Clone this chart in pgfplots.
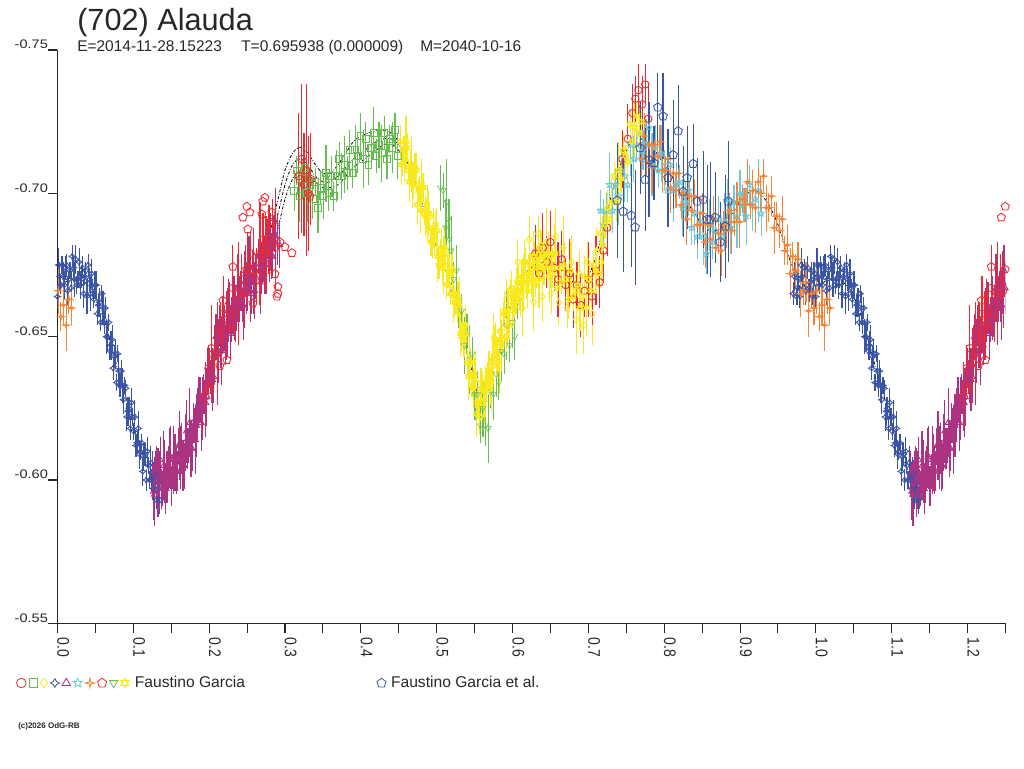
\documentclass[border=0pt]{standalone}
\usepackage{pgfplots}
\pgfplotsset{compat=1.18}
\usepackage{pgfplotstable}
\usepackage{fontspec}
\setmainfont{Liberation Sans}
\usepackage{graphicx}
\usetikzlibrary{plotmarks}

\definecolor{cRed}{RGB}{237,41,47}
\definecolor{cGreen}{RGB}{102,190,80}
\definecolor{cYellow}{RGB}{248,232,30}
\definecolor{cNavy}{RGB}{58,84,164}
\definecolor{cMag}{RGB}{172,50,130}
\definecolor{cLBlue}{RGB}{110,200,222}
\definecolor{cOrange}{RGB}{244,132,52}
\definecolor{txt}{RGB}{40,40,40}

\newcommand\sx[1]{\scalebox{1}[1.2]{#1}}
\newcommand\sy[1]{\scalebox{1}[0.85]{#1}}

\pgfdeclareplotmark{star4}{%
  \pgfpathmoveto{\pgfqpoint{0pt}{\pgfplotmarksize}}%
  \pgfpathlineto{\pgfqpoint{0.35\pgfplotmarksize}{0.35\pgfplotmarksize}}%
  \pgfpathlineto{\pgfqpoint{\pgfplotmarksize}{0pt}}%
  \pgfpathlineto{\pgfqpoint{0.35\pgfplotmarksize}{-0.35\pgfplotmarksize}}%
  \pgfpathlineto{\pgfqpoint{0pt}{-\pgfplotmarksize}}%
  \pgfpathlineto{\pgfqpoint{-0.35\pgfplotmarksize}{-0.35\pgfplotmarksize}}%
  \pgfpathlineto{\pgfqpoint{-\pgfplotmarksize}{0pt}}%
  \pgfpathlineto{\pgfqpoint{-0.35\pgfplotmarksize}{0.35\pgfplotmarksize}}%
  \pgfpathclose\pgfusepathqstroke}
\pgfdeclareplotmark{star4thin}{%
  \pgfpathmoveto{\pgfqpoint{0pt}{\pgfplotmarksize}}%
  \pgfpathlineto{\pgfqpoint{0.18\pgfplotmarksize}{0.18\pgfplotmarksize}}%
  \pgfpathlineto{\pgfqpoint{\pgfplotmarksize}{0pt}}%
  \pgfpathlineto{\pgfqpoint{0.18\pgfplotmarksize}{-0.18\pgfplotmarksize}}%
  \pgfpathlineto{\pgfqpoint{0pt}{-\pgfplotmarksize}}%
  \pgfpathlineto{\pgfqpoint{-0.18\pgfplotmarksize}{-0.18\pgfplotmarksize}}%
  \pgfpathlineto{\pgfqpoint{-\pgfplotmarksize}{0pt}}%
  \pgfpathlineto{\pgfqpoint{-0.18\pgfplotmarksize}{0.18\pgfplotmarksize}}%
  \pgfpathclose\pgfusepathqstroke}
\pgfdeclareplotmark{star5}{%
  \pgfpathmoveto{\pgfpointpolar{90}{\pgfplotmarksize}}%
  \pgfpathlineto{\pgfpointpolar{126}{0.42\pgfplotmarksize}}%
  \pgfpathlineto{\pgfpointpolar{162}{\pgfplotmarksize}}%
  \pgfpathlineto{\pgfpointpolar{198}{0.42\pgfplotmarksize}}%
  \pgfpathlineto{\pgfpointpolar{234}{\pgfplotmarksize}}%
  \pgfpathlineto{\pgfpointpolar{270}{0.42\pgfplotmarksize}}%
  \pgfpathlineto{\pgfpointpolar{306}{\pgfplotmarksize}}%
  \pgfpathlineto{\pgfpointpolar{342}{0.42\pgfplotmarksize}}%
  \pgfpathlineto{\pgfpointpolar{18}{\pgfplotmarksize}}%
  \pgfpathlineto{\pgfpointpolar{54}{0.42\pgfplotmarksize}}%
  \pgfpathclose\pgfusepathqstroke}
\pgfdeclareplotmark{hexa}{%
  \pgfpathmoveto{\pgfpointpolar{90}{\pgfplotmarksize}}%
  \pgfpathlineto{\pgfpointpolar{210}{\pgfplotmarksize}}%
  \pgfpathlineto{\pgfpointpolar{330}{\pgfplotmarksize}}%
  \pgfpathclose
  \pgfpathmoveto{\pgfpointpolar{270}{\pgfplotmarksize}}%
  \pgfpathlineto{\pgfpointpolar{30}{\pgfplotmarksize}}%
  \pgfpathlineto{\pgfpointpolar{150}{\pgfplotmarksize}}%
  \pgfpathclose\pgfusepathqstroke}

\pgfplotsset{
  ser/.style 2 args={only marks, mark=#1, color=#2, forget plot,
    mark options={solid, line width=0.65pt},
    error bars/y dir=both, error bars/y explicit, error bars/error mark=none,
    error bars/error bar style={line width=0.85pt, color=#2, solid}},
  fitline/.style={smooth, black, line width=0.6pt, no marks, forget plot,
    dash pattern=on 2.2pt off 1.3pt on 0.6pt off 1.3pt},
  lgd/.style={legend image code/.code={\draw[##1] plot coordinates {(0pt,0pt)};}},
}

% ---------------- data (phase, reduced magnitude, error) ----------------
\pgfplotstableread{
x y e
-0.030 -0.665 0.004
-0.027 -0.672 0.003
-0.024 -0.667 0.006
-0.021 -0.664 0.004
-0.018 -0.671 0.005
-0.015 -0.674 0.003
-0.012 -0.668 0.005
-0.009 -0.666 0.004
-0.006 -0.673 0.003
-0.003 -0.670 0.006
0.000 -0.664 0.004
0.003 -0.671 0.005
0.006 -0.675 0.003
0.009 -0.668 0.005
0.012 -0.675 0.004
0.015 -0.670 0.003
0.018 -0.667 0.006
0.021 -0.674 0.004
0.024 -0.677 0.005
0.027 -0.670 0.003
0.030 -0.668 0.005
0.033 -0.674 0.004
0.036 -0.671 0.003
0.039 -0.664 0.006
0.042 -0.670 0.004
0.045 -0.672 0.005
0.048 -0.663 0.003
0.051 -0.668 0.005
0.054 -0.661 0.004
0.057 -0.655 0.003
0.060 -0.660 0.006
0.063 -0.660 0.004
0.066 -0.650 0.005
0.069 -0.645 0.003
0.072 -0.649 0.005
0.075 -0.643 0.004
0.078 -0.634 0.003
0.081 -0.638 0.006
0.084 -0.638 0.004
0.087 -0.628 0.005
0.090 -0.632 0.003
0.093 -0.624 0.005
0.096 -0.618 0.004
0.099 -0.622 0.003
0.102 -0.622 0.006
0.105 -0.613 0.004
0.108 -0.609 0.005
0.111 -0.613 0.003
0.114 -0.608 0.005
0.117 -0.600 0.004
0.120 -0.605 0.003
0.123 -0.606 0.006
0.126 -0.597 0.004
0.129 -0.602 0.005
0.132 -0.597 0.003
0.135 -0.593 0.005
-0.0285 -0.671 0.005
-0.0255 -0.664 0.003
-0.0225 -0.670 0.004
-0.0195 -0.675 0.006
-0.0165 -0.667 0.003
-0.0135 -0.666 0.005
-0.0105 -0.674 0.004
-0.0075 -0.669 0.005
-0.0045 -0.664 0.003
-0.0015 -0.672 0.004
0.0015 -0.675 0.006
0.0045 -0.668 0.003
0.0075 -0.671 0.005
0.0105 -0.674 0.004
0.0135 -0.666 0.005
0.0165 -0.673 0.003
0.0195 -0.678 0.004
0.0225 -0.670 0.006
0.0255 -0.668 0.003
0.0285 -0.676 0.005
0.0315 -0.671 0.004
0.0345 -0.665 0.005
0.0375 -0.673 0.003
0.0405 -0.675 0.004
0.0435 -0.665 0.006
0.0465 -0.667 0.003
0.0495 -0.668 0.005
0.0525 -0.658 0.004
0.0555 -0.662 0.005
0.0585 -0.665 0.003
0.0615 -0.655 0.004
0.0645 -0.650 0.006
0.0675 -0.655 0.003
0.0705 -0.647 0.005
0.0735 -0.639 0.004
0.0765 -0.644 0.005
0.0795 -0.644 0.003
0.0825 -0.633 0.004
0.0855 -0.633 0.006
0.0885 -0.633 0.003
0.0915 -0.622 0.005
0.0945 -0.625 0.004
0.0975 -0.627 0.005
0.1005 -0.617 0.003
0.1035 -0.612 0.004
0.1065 -0.618 0.006
0.1095 -0.610 0.003
0.1125 -0.603 0.005
0.1155 -0.609 0.004
0.1185 -0.610 0.005
0.1215 -0.600 0.003
0.1245 -0.600 0.004
0.1275 -0.602 0.006
0.1305 -0.593 0.003
0.1335 -0.599 0.005
}\tNavy

\pgfplotstableread{
x y e
0.125 -0.602 0.008
0.128 -0.595 0.011
0.131 -0.606 0.006
0.134 -0.600 0.010
0.137 -0.597 0.007
0.140 -0.605 0.012
0.143 -0.597 0.009
0.146 -0.604 0.008
0.149 -0.608 0.011
0.152 -0.603 0.006
0.155 -0.606 0.010
0.158 -0.603 0.007
0.161 -0.612 0.012
0.164 -0.611 0.009
0.167 -0.605 0.008
0.170 -0.617 0.011
0.173 -0.612 0.006
0.176 -0.611 0.010
0.179 -0.620 0.007
0.182 -0.614 0.012
0.185 -0.623 0.009
0.188 -0.628 0.008
0.191 -0.625 0.011
0.194 -0.629 0.006
0.197 -0.629 0.010
0.200 -0.639 0.007
0.203 -0.639 0.012
0.206 -0.636 0.009
0.209 -0.650 0.008
0.212 -0.645 0.011
0.215 -0.645 0.006
0.218 -0.654 0.010
0.221 -0.647 0.007
0.224 -0.655 0.012
0.227 -0.660 0.009
0.230 -0.656 0.008
0.233 -0.660 0.011
0.236 -0.658 0.006
0.239 -0.668 0.010
0.242 -0.666 0.007
0.245 -0.661 0.012
0.248 -0.673 0.009
0.251 -0.667 0.008
0.254 -0.666 0.011
0.257 -0.674 0.006
0.260 -0.666 0.010
0.263 -0.674 0.007
0.266 -0.678 0.012
0.269 -0.674 0.009
0.272 -0.677 0.008
0.275 -0.676 0.011
0.278 -0.685 0.006
0.281 -0.683 0.010
0.284 -0.678 0.007
0.287 -0.690 0.012
0.290 -0.684 0.009
0.293 -0.682 0.008
0.1265 -0.596 0.010
0.1295 -0.603 0.007
0.1325 -0.599 0.012
0.1355 -0.607 0.008
0.1385 -0.597 0.006
0.1415 -0.603 0.011
0.1445 -0.601 0.009
0.1475 -0.608 0.010
0.1505 -0.598 0.007
0.1535 -0.607 0.012
0.1565 -0.603 0.008
0.1595 -0.612 0.006
0.1625 -0.608 0.011
0.1655 -0.605 0.009
0.1685 -0.613 0.010
0.1715 -0.611 0.007
0.1745 -0.620 0.012
0.1775 -0.611 0.008
0.1805 -0.619 0.006
0.1835 -0.619 0.011
0.1865 -0.627 0.009
0.1895 -0.620 0.010
0.1925 -0.630 0.007
0.1955 -0.627 0.012
0.1985 -0.638 0.008
0.2015 -0.636 0.006
0.2045 -0.635 0.011
0.2075 -0.645 0.009
0.2105 -0.644 0.010
0.2135 -0.654 0.007
0.2165 -0.645 0.012
0.2195 -0.653 0.008
0.2225 -0.652 0.006
0.2255 -0.659 0.011
0.2285 -0.651 0.009
0.2315 -0.661 0.010
0.2345 -0.657 0.007
0.2375 -0.667 0.012
0.2405 -0.663 0.008
0.2435 -0.661 0.006
0.2465 -0.669 0.011
0.2495 -0.667 0.009
0.2525 -0.675 0.010
0.2555 -0.665 0.007
0.2585 -0.672 0.012
0.2615 -0.671 0.008
0.2645 -0.678 0.006
0.2675 -0.669 0.011
0.2705 -0.678 0.009
0.2735 -0.675 0.010
0.2765 -0.684 0.007
0.2795 -0.681 0.012
0.2825 -0.678 0.008
0.2855 -0.686 0.006
}\tMag

\pgfplotstableread{
x y e
0.195 -0.629 0.012
0.199 -0.639 0.008
0.203 -0.646 0.015
0.207 -0.643 0.010
0.211 -0.644 0.018
0.215 -0.653 0.009
0.219 -0.658 0.013
0.223 -0.654 0.012
0.227 -0.659 0.008
0.231 -0.667 0.015
0.235 -0.658 0.010
0.239 -0.665 0.018
0.243 -0.670 0.009
0.247 -0.666 0.013
0.251 -0.674 0.012
0.255 -0.679 0.008
0.259 -0.673 0.015
0.263 -0.671 0.010
0.267 -0.679 0.018
0.271 -0.684 0.009
0.275 -0.679 0.013
0.279 -0.684 0.012
0.283 -0.690 0.008
0.287 -0.681 0.015
0.318 -0.706 0.022
0.322 -0.712 0.026
0.325 -0.703 0.018
0.328 -0.708 0.030
0.331 -0.700 0.020
0.334 -0.705 0.016
}\tRedA

\pgfplotstableread{
x y e
0.630 -0.679 0.010
0.635 -0.672 0.008
0.640 -0.681 0.012
0.645 -0.676 0.009
0.650 -0.683 0.011
0.655 -0.674 0.008
0.660 -0.670 0.013
0.665 -0.677 0.010
0.670 -0.668 0.009
0.675 -0.672 0.012
0.680 -0.663 0.010
0.685 -0.668 0.008
0.690 -0.661 0.011
0.695 -0.666 0.009
0.700 -0.670 0.013
0.705 -0.664 0.010
0.710 -0.673 0.012
0.715 -0.669 0.009
0.720 -0.680 0.011
0.725 -0.688 0.010
0.745 -0.712 0.010
0.752 -0.719 0.012
0.758 -0.728 0.010
0.762 -0.733 0.008
0.766 -0.736 0.009
0.771 -0.731 0.010
0.775 -0.738 0.007
0.779 -0.726 0.012
}\tRedB

\pgfplotstableread{
x y e
0.3120 -0.701 0.007
0.3155 -0.708 0.005
0.3190 -0.699 0.009
0.3225 -0.705 0.006
0.3260 -0.709 0.008
0.3295 -0.700 0.010
0.3330 -0.703 0.006
0.3365 -0.698 0.007
0.3400 -0.704 0.005
0.3435 -0.695 0.009
0.3470 -0.702 0.006
0.3505 -0.699 0.008
0.3540 -0.707 0.010
0.3575 -0.700 0.006
0.3610 -0.706 0.007
0.3645 -0.699 0.005
0.3680 -0.706 0.009
0.3715 -0.712 0.006
0.3750 -0.706 0.008
0.3785 -0.710 0.010
0.3820 -0.707 0.006
0.3855 -0.715 0.007
0.3890 -0.707 0.005
0.3925 -0.715 0.009
0.3960 -0.713 0.006
0.3995 -0.720 0.008
0.4030 -0.712 0.010
0.4065 -0.719 0.006
0.4100 -0.710 0.007
0.4135 -0.716 0.005
0.4170 -0.721 0.009
0.4205 -0.713 0.006
0.4240 -0.717 0.008
0.4275 -0.714 0.010
0.4310 -0.721 0.006
0.4345 -0.712 0.007
0.4380 -0.719 0.005
0.4415 -0.716 0.009
0.4450 -0.722 0.006
0.4485 -0.713 0.008
}\tGreenSq

\pgfplotstableread{
x y e
0.575 -0.650 0.008
0.583 -0.640 0.010
0.592 -0.663 0.007
0.600 -0.655 0.009
0.607 -0.676 0.008
0.613 -0.660 0.010
0.622 -0.684 0.008
0.628 -0.662 0.010
0.634 -0.686 0.006
0.639 -0.664 0.009
0.645 -0.683 0.012
0.651 -0.665 0.007
0.657 -0.685 0.010
0.661 -0.662 0.008
0.667 -0.681 0.011
0.672 -0.660 0.007
0.678 -0.676 0.009
0.684 -0.656 0.012
0.688 -0.672 0.008
0.694 -0.654 0.010
0.699 -0.676 0.007
0.705 -0.658 0.011
0.711 -0.680 0.008
0.717 -0.676 0.009
}\tYelDia

\pgfplotstableread{
x y e
0.716 -0.694 0.007
0.720 -0.689 0.009
0.724 -0.694 0.006
0.728 -0.703 0.011
0.732 -0.694 0.008
0.736 -0.703 0.006
0.740 -0.699 0.010
0.744 -0.708 0.007
0.748 -0.706 0.009
0.752 -0.703 0.006
0.756 -0.717 0.011
0.760 -0.712 0.008
0.764 -0.717 0.006
0.768 -0.721 0.010
0.772 -0.715 0.007
0.776 -0.717 0.009
0.780 -0.723 0.006
0.784 -0.710 0.011
0.788 -0.716 0.008
0.792 -0.708 0.006
0.796 -0.714 0.010
0.800 -0.708 0.007
0.804 -0.701 0.009
0.808 -0.710 0.006
0.812 -0.701 0.011
0.816 -0.703 0.008
0.820 -0.704 0.006
0.824 -0.695 0.010
0.828 -0.697 0.007
0.832 -0.701 0.009
0.836 -0.688 0.006
0.840 -0.693 0.011
0.844 -0.685 0.008
0.848 -0.690 0.006
0.852 -0.685 0.010
0.856 -0.679 0.007
0.860 -0.689 0.009
0.864 -0.683 0.006
0.868 -0.687 0.011
0.872 -0.691 0.008
0.876 -0.685 0.006
0.880 -0.690 0.010
0.884 -0.698 0.007
0.888 -0.688 0.009
0.892 -0.697 0.006
0.896 -0.692 0.011
0.900 -0.700 0.008
0.904 -0.696 0.006
0.908 -0.692 0.010
0.912 -0.703 0.007
0.916 -0.696 0.009
0.920 -0.698 0.006
0.924 -0.701 0.011
0.928 -0.693 0.008
}\tLBlue

\pgfplotstableread{
x y e
0.7700 -0.712 0.006
0.7735 -0.720 0.008
0.7770 -0.711 0.005
0.7805 -0.717 0.007
0.7840 -0.709 0.009
0.7875 -0.717 0.005
0.7910 -0.713 0.006
0.7945 -0.718 0.006
0.7980 -0.708 0.008
0.8015 -0.708 0.005
0.8050 -0.712 0.007
0.8085 -0.702 0.009
0.8120 -0.707 0.005
0.8155 -0.701 0.006
0.8190 -0.707 0.008
0.8225 -0.696 0.005
0.8260 -0.700 0.007
0.8295 -0.691 0.009
0.8330 -0.699 0.005
0.8365 -0.694 0.006
0.8400 -0.699 0.006
0.8435 -0.689 0.008
0.8470 -0.689 0.005
0.8505 -0.693 0.007
0.8540 -0.683 0.009
0.8575 -0.689 0.005
0.8610 -0.684 0.006
0.8645 -0.691 0.008
0.8680 -0.681 0.005
0.8715 -0.686 0.007
0.8750 -0.680 0.009
0.8785 -0.689 0.005
0.8820 -0.687 0.006
0.8855 -0.694 0.006
0.8890 -0.687 0.008
0.8925 -0.690 0.005
0.8960 -0.697 0.007
0.8995 -0.690 0.009
0.9030 -0.698 0.005
0.9065 -0.696 0.006
0.9100 -0.704 0.008
0.9135 -0.696 0.005
0.9170 -0.701 0.007
0.9205 -0.695 0.009
0.9240 -0.704 0.005
0.9275 -0.700 0.006
0.9310 -0.706 0.006
0.9345 -0.695 0.008
0.9380 -0.695 0.005
0.9415 -0.699 0.007
0.9450 -0.688 0.009
0.9485 -0.692 0.005
0.9520 -0.687 0.006
0.9555 -0.691 0.008
0.9590 -0.680 0.005
0.9625 -0.682 0.007
0.9660 -0.672 0.009
0.9695 -0.678 0.005
0.9730 -0.673 0.006
0.9765 -0.677 0.006
0.9800 -0.665 0.008
0.9835 -0.666 0.005
0.9870 -0.669 0.007
0.9905 -0.659 0.009
0.9940 -0.665 0.005
0.9975 -0.660 0.006
1.0010 -0.666 0.008
1.0045 -0.657 0.005
1.0080 -0.661 0.007
1.0115 -0.654 0.009
1.0150 -0.663 0.005
1.0185 -0.660 0.006
}\tOrange

\pgfplotstableread{
x y e
0.2735 -0.6985 0
0.2708 -0.6972 0
0.2497 -0.6954 0
0.2537 -0.6934 0
0.2445 -0.6916 0
0.2695 -0.6927 0
0.2827 -0.6934 0
0.2827 -0.6892 0
0.2510 -0.6875 0
0.2933 -0.6830 0
0.2999 -0.6813 0
0.3091 -0.6792 0
0.2867 -0.6719 0
0.2906 -0.6674 0
0.2906 -0.6650 0
0.2893 -0.6640 0
0.3197 -0.7048 0
0.3329 -0.6989 0
0.2181 -0.6626 0
0.2313 -0.6744 0
0.2577 -0.6616 0
0.2495 -0.6735 0
0.2234 -0.6419 0
0.2141 -0.6398 0
0.2009 -0.6315 0
}\tRedPent

\pgfplotstableread{
x y e
0.5050 -0.702 0.008
0.5085 -0.701 0.006
0.5120 -0.688 0.010
0.5135 -0.697 0.015
0.5155 -0.691 0.007
0.5165 -0.684 0.014
0.5190 -0.680 0.012
0.5225 -0.670 0.006
0.5260 -0.673 0.009
0.5295 -0.661 0.008
0.5330 -0.659 0.006
0.5365 -0.647 0.010
0.5400 -0.651 0.007
0.5435 -0.642 0.012
0.5470 -0.644 0.006
0.5505 -0.630 0.009
0.5540 -0.630 0.008
0.5575 -0.619 0.006
0.5610 -0.625 0.010
0.5645 -0.619 0.007
0.5680 -0.618 0.012
0.5715 -0.631 0.006
0.5750 -0.630 0.009
0.5785 -0.637 0.008
0.5820 -0.634 0.006
0.5855 -0.645 0.010
0.5890 -0.644 0.007
0.5925 -0.654 0.012
0.5960 -0.647 0.006
0.5995 -0.655 0.009
0.6030 -0.650 0.008
0.6065 -0.662 0.006
}\tGreenTri

\pgfplotstableread{
x y e
0.452 -0.718 0.006
0.455 -0.710 0.004
0.458 -0.712 0.008
0.461 -0.716 0.005
0.464 -0.704 0.007
0.467 -0.710 0.010
0.470 -0.703 0.005
0.473 -0.708 0.006
0.476 -0.701 0.004
0.479 -0.694 0.008
0.482 -0.702 0.005
0.485 -0.692 0.007
0.488 -0.693 0.010
0.491 -0.692 0.005
0.494 -0.683 0.006
0.497 -0.683 0.004
0.500 -0.687 0.008
0.503 -0.675 0.005
0.506 -0.681 0.007
0.509 -0.675 0.010
0.512 -0.679 0.005
0.515 -0.673 0.006
0.518 -0.665 0.004
0.521 -0.673 0.008
0.524 -0.662 0.005
0.527 -0.662 0.007
0.530 -0.661 0.010
0.533 -0.650 0.005
0.536 -0.649 0.006
0.539 -0.651 0.004
0.542 -0.636 0.008
0.545 -0.641 0.005
0.548 -0.632 0.007
0.551 -0.635 0.010
0.554 -0.627 0.005
0.557 -0.622 0.006
0.560 -0.634 0.004
0.563 -0.628 0.008
0.566 -0.634 0.005
0.569 -0.638 0.007
0.572 -0.634 0.010
0.575 -0.640 0.005
0.578 -0.649 0.006
0.581 -0.641 0.004
0.584 -0.652 0.008
0.587 -0.649 0.005
0.590 -0.659 0.007
0.593 -0.657 0.010
0.596 -0.654 0.005
0.599 -0.667 0.006
0.602 -0.661 0.004
0.605 -0.666 0.008
0.608 -0.670 0.005
0.611 -0.664 0.007
0.614 -0.669 0.010
0.617 -0.676 0.005
0.620 -0.666 0.006
0.623 -0.675 0.004
0.626 -0.670 0.008
0.629 -0.678 0.005
0.632 -0.674 0.007
0.635 -0.670 0.010
0.638 -0.682 0.005
0.641 -0.674 0.006
0.644 -0.677 0.004
0.647 -0.679 0.008
0.650 -0.672 0.005
0.653 -0.674 0.007
0.656 -0.679 0.010
0.659 -0.667 0.005
0.662 -0.674 0.006
0.665 -0.669 0.004
0.668 -0.675 0.008
0.671 -0.670 0.005
0.674 -0.663 0.007
0.677 -0.673 0.010
0.680 -0.664 0.005
0.683 -0.666 0.006
0.686 -0.668 0.004
0.689 -0.660 0.008
0.692 -0.664 0.005
0.695 -0.671 0.007
0.698 -0.660 0.010
0.701 -0.670 0.005
0.704 -0.666 0.006
0.707 -0.675 0.004
0.710 -0.673 0.008
0.713 -0.672 0.005
0.716 -0.686 0.007
0.719 -0.682 0.010
0.722 -0.689 0.005
0.725 -0.695 0.006
0.728 -0.691 0.004
0.731 -0.697 0.008
0.734 -0.706 0.005
0.737 -0.697 0.007
0.740 -0.708 0.010
0.743 -0.705 0.005
0.746 -0.715 0.006
0.749 -0.713 0.004
0.752 -0.711 0.008
0.755 -0.724 0.005
0.758 -0.718 0.007
0.761 -0.723 0.010
0.764 -0.727 0.005
0.767 -0.721 0.006
0.770 -0.725 0.004
0.4535 -0.710 0.007
0.4565 -0.715 0.005
0.4595 -0.718 0.009
0.4625 -0.708 0.004
0.4655 -0.709 0.006
0.4685 -0.703 0.008
0.4715 -0.709 0.005
0.4745 -0.696 0.007
0.4775 -0.701 0.005
0.4805 -0.703 0.009
0.4835 -0.693 0.004
0.4865 -0.692 0.006
0.4895 -0.693 0.008
0.4925 -0.683 0.005
0.4955 -0.688 0.007
0.4985 -0.689 0.005
0.5015 -0.678 0.009
0.5045 -0.680 0.004
0.5075 -0.674 0.006
0.5105 -0.681 0.008
0.5135 -0.668 0.005
0.5165 -0.672 0.007
0.5195 -0.674 0.005
0.5225 -0.664 0.009
0.5255 -0.662 0.004
0.5285 -0.663 0.006
0.5315 -0.651 0.008
0.5345 -0.654 0.005
0.5375 -0.654 0.007
0.5405 -0.641 0.005
0.5435 -0.641 0.009
0.5465 -0.633 0.004
0.5495 -0.637 0.006
0.5525 -0.623 0.008
0.5555 -0.627 0.005
0.5585 -0.632 0.007
0.5615 -0.627 0.005
0.5645 -0.631 0.009
0.5675 -0.637 0.004
0.5705 -0.632 0.006
0.5735 -0.642 0.008
0.5765 -0.649 0.005
0.5795 -0.643 0.007
0.5825 -0.648 0.005
0.5855 -0.647 0.009
0.5885 -0.658 0.004
0.5915 -0.650 0.006
0.5945 -0.659 0.008
0.5975 -0.665 0.005
0.6005 -0.660 0.007
0.6035 -0.663 0.005
0.6065 -0.669 0.009
0.6095 -0.663 0.004
0.6125 -0.671 0.006
0.6155 -0.676 0.008
0.6185 -0.668 0.005
0.6215 -0.672 0.007
0.6245 -0.669 0.005
0.6275 -0.678 0.009
0.6305 -0.668 0.004
0.6335 -0.676 0.006
0.6365 -0.680 0.008
0.6395 -0.674 0.005
0.6425 -0.675 0.007
0.6455 -0.679 0.005
0.6485 -0.671 0.009
0.6515 -0.678 0.004
}\tYelStar

\pgfplotstableread{
x y e
0.7917 -0.7300 0.012
0.7985 -0.7269 0.015
0.8183 -0.7217 0.016
0.7682 -0.7158 0.016
0.7800 -0.7117 0.020
0.7866 -0.7106 0.013
0.8117 -0.7134 0.019
0.8051 -0.7054 0.017
0.7748 -0.7048 0.018
0.8381 -0.7103 0.014
0.8302 -0.7054 0.018
0.8249 -0.7006 0.016
0.7379 -0.6975 0.020
0.7458 -0.6937 0.021
0.7564 -0.6923 0.018
0.7616 -0.6882 0.020
0.8434 -0.6972 0.015
0.8513 -0.6978 0.017
0.8566 -0.6909 0.019
0.8671 -0.6916 0.016
0.8843 -0.6972 0.021
0.8804 -0.6885 0.018
0.8738 -0.6830 0.014
0.8606 -0.6909 0.020
}\tNavyPent

\pgfplotstableread{
x y
0.00 -0.668
0.01 -0.669
0.02 -0.670
0.03 -0.670
0.04 -0.668
0.05 -0.664
0.06 -0.657
0.07 -0.648
0.08 -0.638
0.09 -0.629
0.10 -0.619
0.11 -0.611
0.12 -0.604
0.13 -0.600
0.14 -0.600
0.15 -0.602
0.16 -0.606
0.17 -0.611
0.18 -0.618
0.19 -0.626
0.20 -0.635
0.21 -0.644
0.22 -0.652
0.23 -0.659
0.24 -0.664
0.25 -0.668
0.26 -0.671
0.27 -0.676
0.28 -0.682
0.29 -0.692
0.30 -0.703
0.31 -0.710
0.32 -0.712
0.33 -0.710
0.34 -0.706
0.35 -0.704
0.36 -0.704
0.37 -0.706
0.38 -0.709
0.39 -0.712
0.40 -0.714
0.41 -0.716
0.42 -0.718
0.43 -0.719
0.44 -0.719
0.45 -0.717
0.46 -0.712
0.47 -0.705
0.48 -0.697
0.49 -0.689
0.50 -0.681
0.51 -0.674
0.52 -0.666
0.53 -0.656
0.54 -0.645
0.55 -0.634
0.555 -0.629
0.56 -0.630
0.57 -0.637
0.58 -0.647
0.59 -0.656
0.60 -0.663
0.61 -0.669
0.62 -0.673
0.63 -0.675
0.64 -0.676
0.65 -0.676
0.66 -0.675
0.67 -0.672
0.68 -0.669
0.69 -0.668
0.70 -0.671
0.71 -0.678
0.72 -0.688
0.73 -0.699
0.74 -0.708
0.75 -0.715
0.76 -0.719
0.77 -0.719
0.78 -0.717
0.79 -0.714
0.80 -0.710
0.81 -0.706
0.82 -0.701
0.83 -0.697
0.84 -0.693
0.85 -0.689
0.86 -0.687
0.87 -0.687
0.88 -0.689
0.89 -0.693
0.90 -0.697
0.91 -0.700
0.92 -0.701
0.93 -0.699
0.94 -0.695
0.95 -0.689
0.96 -0.681
0.97 -0.674
0.98 -0.669
0.99 -0.667
1.00 -0.668
}\fitB

\pgfplotstableread{
x y
0.27 -0.676
0.28 -0.686
0.29 -0.697
0.30 -0.708
0.31 -0.714
0.32 -0.716
0.33 -0.714
0.34 -0.710
0.35 -0.707
0.36 -0.707
0.37 -0.710
0.38 -0.714
0.39 -0.718
0.40 -0.720
0.41 -0.721
0.42 -0.722
0.43 -0.722
0.44 -0.721
0.45 -0.718
0.46 -0.713
0.47 -0.705
}\fitA

\pgfplotstableread{
x y
0.27 -0.676
0.28 -0.679
0.29 -0.687
0.30 -0.698
0.31 -0.705
0.32 -0.708
0.33 -0.707
0.34 -0.704
0.35 -0.702
0.36 -0.702
0.37 -0.703
0.38 -0.706
0.39 -0.709
0.40 -0.711
0.41 -0.713
0.42 -0.715
0.43 -0.717
0.44 -0.717
0.45 -0.715
0.46 -0.711
0.47 -0.705
}\fitC

\begin{document}
\begin{tikzpicture}[x=1pt,y=1pt]
\useasboundingbox (0,0) rectangle (768,576);
\begin{axis}[
  at={(43.1pt,108.5pt)}, anchor=south west,
  scale only axis, width=711pt, height=430pt,
  xmin=0, xmax=1.25, ymin=-0.75, ymax=-0.55, y dir=reverse,
  axis x line*=bottom, axis y line*=left,
  axis line style={line width=0.8pt, black!85},
  tick align=outside, major tick length=7pt, minor tick length=7pt,
  tick style={line width=0.8pt, black!85},
  xtick={0,0.1,0.2,0.3,0.4,0.5,0.6,0.7,0.8,0.9,1.0,1.1,1.2},
  minor xtick={0.05,0.15,0.25,0.35,0.45,0.55,0.65,0.75,0.85,0.95,1.05,1.15,1.25},
  xticklabels={\sx{0.0},\sx{0.1},\sx{0.2},\sx{0.3},\sx{0.4},\sx{0.5},\sx{0.6},\sx{0.7},\sx{0.8},\sx{0.9},\sx{1.0},\sx{1.1},\sx{1.2}},
  ytick={-0.75,-0.70,-0.65,-0.60,-0.55},
  yticklabels={\sy{-0.75},\sy{-0.70},\sy{-0.65},\sy{-0.60},\sy{-0.55}},
  xticklabel style={rotate=-90, anchor=base west, inner sep=0pt, text=txt,
    font=\fontsize{10.5}{12}\selectfont, xshift=3.75pt},
  yticklabel style={anchor=base east, inner sep=0pt, text=txt,
    font=\fontsize{10.9}{12}\selectfont, yshift=1pt},
  legend columns=-1,
  legend style={draw=none, fill=none, inner sep=0pt, outer sep=0pt,
    at={(axis description cs:-0.0432,-0.1041)}, anchor=west,
    column sep=0pt, nodes={inner sep=0pt, text=txt, font=\fontsize{11.7}{13}\selectfont},
    /tikz/every even column/.append style={column sep=0pt}},
]
% fitted model curves
\addplot[fitline] table[x=x,y=y]{\fitB};
\addplot[fitline] table[x expr=\thisrow{x}+1,y=y]{\fitB};
\addplot[fitline] table[x=x,y=y]{\fitA};
\addplot[fitline] table[x=x,y=y]{\fitC};

% 2 green squares
\addplot[mark size=2.6pt, ser={square}{cGreen}] table[x=x,y=y,y error=e]{\tGreenSq};
% 3 yellow diamonds
\addplot[mark size=2.8pt, ser={diamond}{cYellow}] table[x=x,y=y,y error=e]{\tYelDia};
% 4 navy
\addplot[mark size=2.4pt, ser={star4}{cNavy}] table[x=x,y=y,y error=e]{\tNavy};
\addplot[mark size=2.4pt, ser={star4}{cNavy}] table[x expr=\thisrow{x}+1,y=y,y error=e]{\tNavy};
% 5 magenta triangles
\addplot[mark size=2.6pt, ser={triangle}{cMag}] table[x=x,y=y,y error=e]{\tMag};
\addplot[mark size=2.6pt, ser={triangle}{cMag}] table[x expr=\thisrow{x}+1,y=y,y error=e]{\tMag};
% 1 red circles
\addplot[mark size=2.8pt, ser={o}{cRed}] table[x=x,y=y,y error=e]{\tRedA};
\addplot[mark size=2.8pt, ser={o}{cRed}] table[x expr=\thisrow{x}+1,y=y,y error=e]{\tRedA};
\addplot[mark size=2.8pt, ser={o}{cRed}] table[x=x,y=y,y error=e]{\tRedB};
% 6 light blue stars
\addplot[mark size=2.6pt, ser={star5}{cLBlue}] table[x=x,y=y,y error=e]{\tLBlue};
% 7 orange
\addplot[mark size=2.6pt, ser={star4thin}{cOrange}] table[x=x,y=y,y error=e]{\tOrange};
\addplot[mark size=2.6pt, ser={star4thin}{cOrange}] table[x expr=\thisrow{x}-1,y=y,y error=e]{\tOrange};
% 8 red pentagons
\addplot[mark size=3.2pt, ser={pentagon}{cRed}] table[x=x,y=y,y error=e]{\tRedPent};
\addplot[mark size=3.2pt, ser={pentagon}{cRed}] table[x expr=\thisrow{x}+1,y=y,y error=e]{\tRedPent};
% 9 green down triangles
\addplot[mark size=2.6pt, ser={triangle}{cGreen}, mark options={rotate=180}] table[x=x,y=y,y error=e]{\tGreenTri};
% 10 yellow stars
\addplot[mark size=2.6pt, ser={hexa}{cYellow}] table[x=x,y=y,y error=e]{\tYelStar};
% 11 navy pentagons (et al.)
\addplot[mark size=3.4pt, ser={pentagon}{cNavy}] table[x=x,y=y,y error=e]{\tNavyPent};

% legend
\addlegendimage{only marks, mark=o, cRed, mark size=3.6pt, mark options={solid,line width=0.6pt}, lgd}
\addlegendentry{\hspace*{2.1pt}}
\addlegendimage{only marks, mark=square, cGreen, mark size=3.3pt, mark options={solid,line width=0.6pt}, lgd}
\addlegendentry{\hspace*{2.1pt}}
\addlegendimage{only marks, mark=diamond, cYellow, mark size=3.6pt, mark options={solid,line width=0.6pt}, lgd}
\addlegendentry{\hspace*{2.1pt}}
\addlegendimage{only marks, mark=star4, cNavy, mark size=3.3pt, mark options={solid,line width=0.6pt}, lgd}
\addlegendentry{\hspace*{2.1pt}}
\addlegendimage{only marks, mark=triangle, cMag, mark size=3.6pt, mark options={solid,line width=0.6pt}, lgd}
\addlegendentry{\hspace*{2.1pt}}
\addlegendimage{only marks, mark=star5, cLBlue, mark size=3.6pt, mark options={solid,line width=0.6pt}, lgd}
\addlegendentry{\hspace*{2.1pt}}
\addlegendimage{only marks, mark=star4thin, cOrange, mark size=3.6pt, mark options={solid,line width=0.6pt}, lgd}
\addlegendentry{\hspace*{2.1pt}}
\addlegendimage{only marks, mark=pentagon, cRed, mark size=3.6pt, mark options={solid,line width=0.6pt}, lgd}
\addlegendentry{\hspace*{2.1pt}}
\addlegendimage{only marks, mark=triangle, cGreen, mark size=3.6pt, mark options={solid,line width=0.6pt,rotate=180}, lgd}
\addlegendentry{\hspace*{2.1pt}}
\addlegendimage{only marks, mark=hexa, cYellow, mark size=3.6pt, mark options={solid,line width=0.6pt}, lgd}
\addlegendentry{\hspace*{4.5pt}\makebox[181.5pt][l]{Faustino Garcia}}
\addlegendimage{only marks, mark=pentagon, cNavy, mark size=3.6pt, mark options={solid,line width=0.6pt}, lgd}
\addlegendentry{\hspace*{3.8pt}Faustino Garcia et al.}
\end{axis}

\node[anchor=base west, inner sep=0pt, text=txt, font=\fontsize{23}{27}\selectfont] at (57.75,553) {(702) Alauda};
\node[anchor=base west, inner sep=0pt, text=txt, font=\fontsize{11.6}{13}\selectfont] at (57.75,537.4) {E=2014-11-28.15223};
\node[anchor=base west, inner sep=0pt, text=txt, font=\fontsize{11.6}{13}\selectfont] at (180.75,537.4) {T=0.695938 (0.000009)};
\node[anchor=base west, inner sep=0pt, text=txt, font=\fontsize{11.6}{13}\selectfont] at (315,537.4) {M=2040-10-16};
\node[anchor=base west, inner sep=0pt, text=txt, font=\bfseries\fontsize{6}{7}\selectfont] at (13.5,30) {(c)2026 OdG-RB};
\end{tikzpicture}
\end{document}
